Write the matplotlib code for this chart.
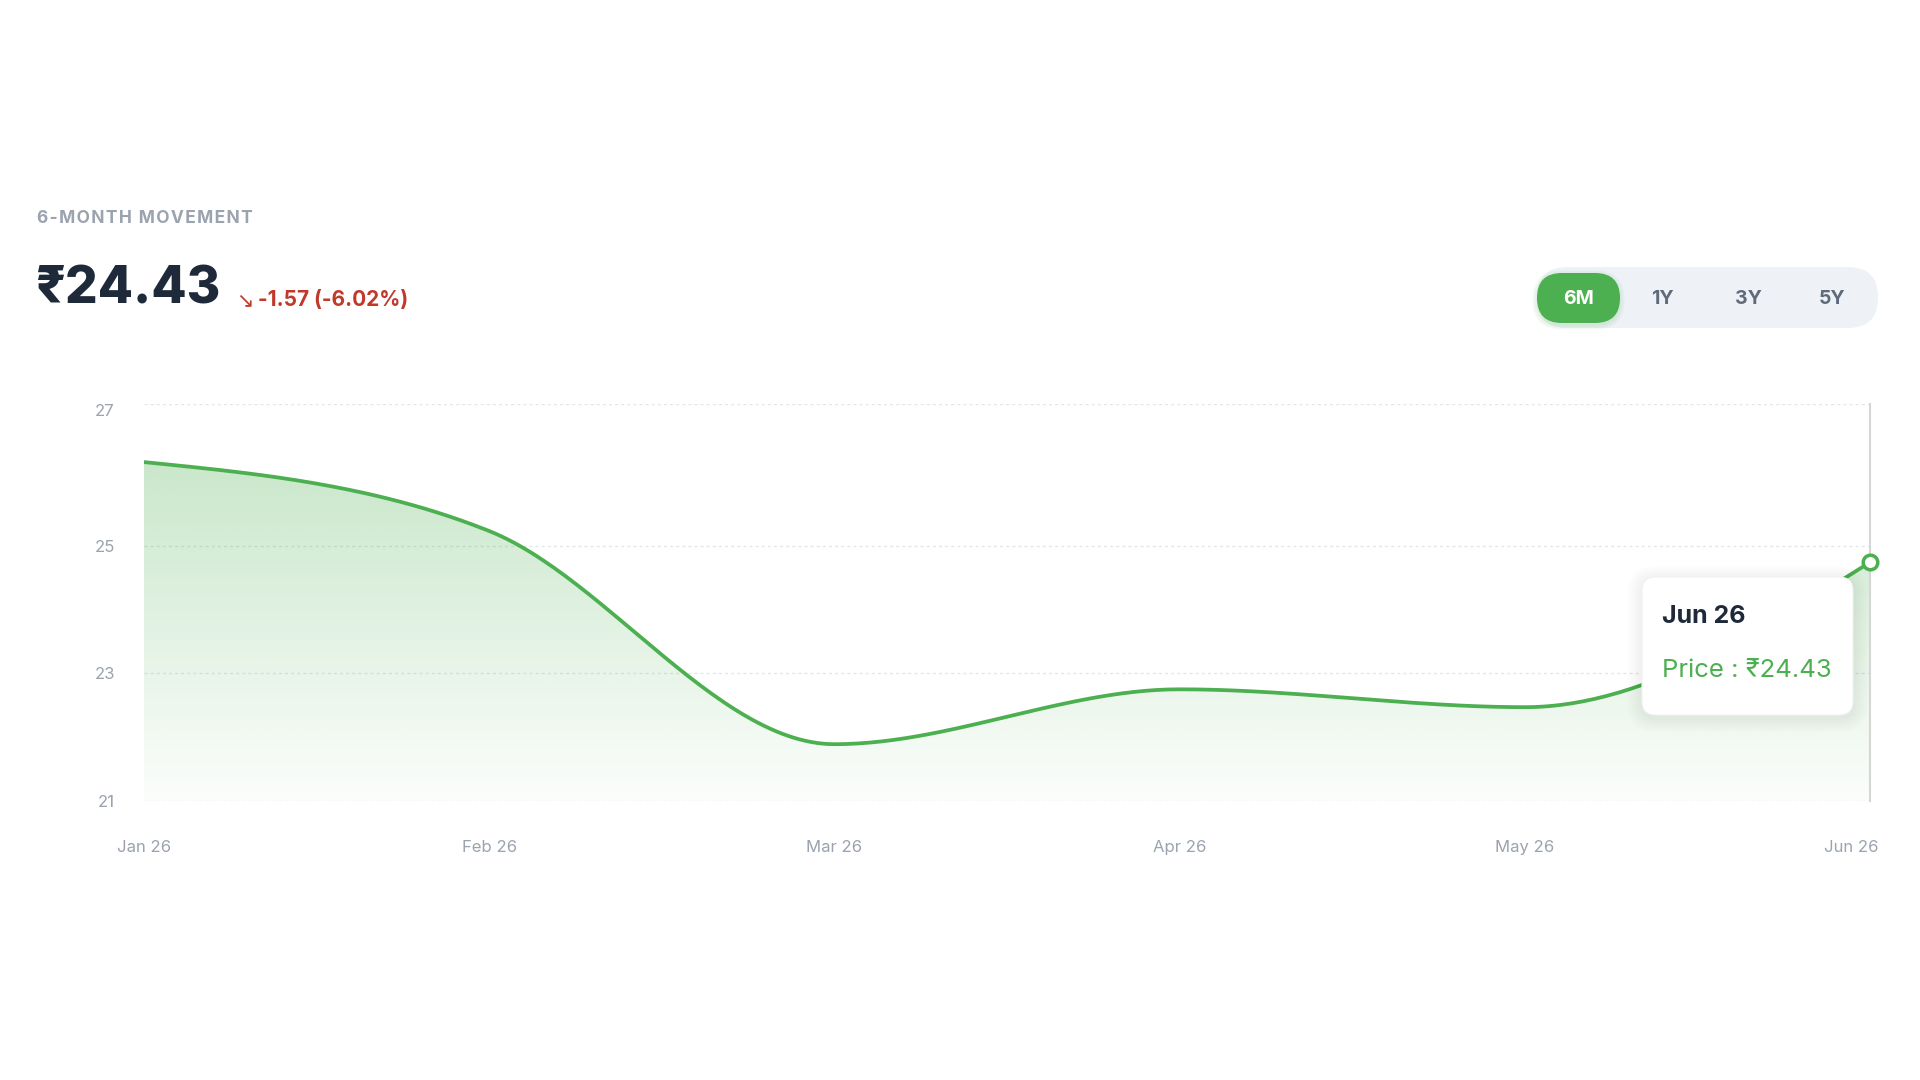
import numpy as np
import matplotlib
matplotlib.use("Agg")
import matplotlib.pyplot as plt
from matplotlib.patches import FancyBboxPatch, Polygon
from matplotlib.transforms import ScaledTranslation

plt.rcParams['font.family'] = ['Inter', 'DejaVu Sans']

# ---- data ----
months = ["Jan 26", "Feb 26", "Mar 26", "Apr 26", "May 26", "Jun 26"]
prices = [26.00, 24.92, 21.58, 22.44, 22.16, 24.43]
y_ticks = [20.69, 22.69, 24.69, 26.91]
y_tick_labels = ["21", "23", "25", "27"]
ranges = ["6M", "1Y", "3Y", "5Y"]

title = "6-MONTH MOVEMENT"
price_text = "₹24.43"
change_arrow = "↘"
change_text = "-1.57 (-6.02%)"
tooltip_date = "Jun 26"
tooltip_price = "Price : ₹24.43"

GREEN = "#4caf50"
DARK = "#1e2a3a"
GRAY = "#9aa3ae"
RED = "#c0392b"

W, H, DPI = 1920, 1080, 100


def fx(x):
    return x / W


def fy(y):
    return 1 - y / H


def rbox(fig, x0, y0, x1, y1, r, **kw):
    # rounded box in pixel coords (top-left origin)
    p = FancyBboxPatch((x0 / DPI, (H - y1) / DPI), (x1 - x0) / DPI, (y1 - y0) / DPI,
                       boxstyle=f"round,pad=0,rounding_size={r / DPI}",
                       transform=fig.dpi_scale_trans, **kw)
    fig.add_artist(p)
    return p


def monotone_curve(ys, n=60):
    # d3 curveMonotoneX style path through the points (unit x spacing)
    ys = np.asarray(ys, dtype=float)
    s = np.diff(ys)
    t = np.zeros(len(ys))
    for i in range(1, len(ys) - 1):
        s0, s1 = s[i - 1], s[i]
        p = (s0 + s1) / 2
        t[i] = (np.sign(s0) + np.sign(s1)) * min(abs(s0), abs(s1), 0.5 * abs(p))
    t[0] = (3 * s[0] - t[1]) / 2
    t[-1] = (3 * s[-1] - t[-2]) / 2
    xs_out, ys_out = [], []
    u = np.linspace(0, 1, n)
    for i in range(len(ys) - 1):
        h00 = 2 * u**3 - 3 * u**2 + 1
        h10 = u**3 - 2 * u**2 + u
        h01 = -2 * u**3 + 3 * u**2
        h11 = u**3 - u**2
        seg = h00 * ys[i] + h10 * t[i] + h01 * ys[i + 1] + h11 * t[i + 1]
        xs_out.extend(i + u)
        ys_out.extend(seg)
    return np.array(xs_out), np.array(ys_out)


fig = plt.figure(figsize=(W / DPI, H / DPI), dpi=DPI)
fig.patch.set_facecolor("white")

# ---- header ----
fig.text(fx(37), fy(223), "\u200a".join(title), fontsize=12.5, fontweight="bold",
         color=GRAY, ha="left", va="baseline")
fig.text(fx(35), fy(303), price_text, fontsize=37, fontweight="heavy",
         color=DARK, ha="left", va="baseline")
fig.text(fx(236), fy(306), change_arrow, fontsize=15, family="DejaVu Sans",
         color=RED, ha="left", va="baseline")
fig.text(fx(258), fy(306), change_text, fontsize=15, fontweight="bold",
         color=RED, ha="left", va="baseline")

# ---- range toggle ----
rbox(fig, 1537, 267, 1878, 328, 30, facecolor="#eef2f7", edgecolor="none", zorder=1)
for k in range(1, 6):
    rbox(fig, 1537 - k, 273 - k + 2, 1620 + k, 323 + k + 2, 25 + k,
         facecolor=GREEN, edgecolor="none", alpha=0.03, zorder=1)
rbox(fig, 1537, 273, 1620, 323, 25, facecolor=GREEN, edgecolor="none", zorder=2)
range_x = [1579, 1662, 1748, 1832]
for lab, x in zip(ranges, range_x):
    fig.text(fx(x), fy(299), lab, fontsize=14, fontweight="bold",
             color="white" if lab == "6M" else "#5f6b7a",
             ha="center", va="center", zorder=3)

# ---- chart ----
ax = fig.add_axes([fx(144), fy(801), (1870 - 144) / W, (801 - 404) / H])
ax.set_xlim(0, len(months) - 1)
ax.set_ylim(y_ticks[0], y_ticks[-1])
for s in ax.spines.values():
    s.set_visible(False)

for yt in y_ticks:
    ax.axhline(yt, color="#e3e6ea", lw=1, ls=(0, (2.2, 2.2)), zorder=0)

xi = np.arange(len(months))
cx, cy = monotone_curve(prices)

# gradient fill under the curve
verts = np.column_stack([np.r_[cx, cx[-1], cx[0]], np.r_[cy, y_ticks[0], y_ticks[0]]])
poly = Polygon(verts, closed=True, facecolor="none", edgecolor="none")
ax.add_patch(poly)
rgb = matplotlib.colors.to_rgb(GREEN)
grad = np.zeros((256, 1, 4))
grad[:, 0, :3] = rgb
grad[:, 0, 3] = np.linspace(0.3, 0.02, 256)
im = ax.imshow(grad, extent=[0, len(months) - 1, y_ticks[0], max(prices)],
               aspect="auto", origin="upper", zorder=1, interpolation="bilinear")
im.set_clip_path(poly)
ax.set_ylim(y_ticks[0], y_ticks[-1])

ax.plot(cx, cy, color=GREEN, lw=2.7, zorder=3, solid_capstyle="round")

# hover cursor and active point
ax.plot([xi[-1], xi[-1]], [y_ticks[0], y_ticks[-1]], color="#d6d6d6", lw=1.5,
        zorder=2, clip_on=False)
ax.plot([xi[-1]], [prices[-1]], marker="o", ms=10.5, mew=2.5, mfc="white",
        mec=GREEN, zorder=4, clip_on=False)

ax.set_yticks(y_ticks)
ax.set_yticklabels(y_tick_labels)
ax.set_xticks(xi)
ax.set_xticklabels(months)
ax.tick_params(axis="both", length=0, labelsize=12, labelcolor=GRAY)
ax.tick_params(axis="y", pad=21)
ax.tick_params(axis="x", pad=28)
ylbls = ax.get_yticklabels()
ylbls[-1].set_transform(ylbls[-1].get_transform()
                        + ScaledTranslation(0, -6 / DPI, fig.dpi_scale_trans))
lbls = ax.get_xticklabels()
lbls[-1].set_horizontalalignment("right")
lbls[-1].set_transform(lbls[-1].get_transform()
                       + ScaledTranslation(8 / DPI, 0, fig.dpi_scale_trans))

# ---- tooltip ----
tx0, ty0, tx1, ty1 = 1642, 577, 1853, 715
for k in range(1, 16):
    rbox(fig, tx0 - k, ty0 - k + 3, tx1 + k, ty1 + k + 3, 14 + k,
         facecolor="black", edgecolor="none", alpha=0.004, zorder=5)
rbox(fig, tx0, ty0, tx1, ty1, 14, facecolor="white", edgecolor="#f2f2f2",
     lw=0.8, zorder=6)
fig.text(fx(1662), fy(623), tooltip_date, fontsize=18, fontweight="bold",
         color=DARK, ha="left", va="baseline", zorder=7)
fig.text(fx(1662), fy(677), tooltip_price, fontsize=18.5,
         color=GREEN, ha="left", va="baseline", zorder=7)

fig.savefig("out.png", dpi=DPI, facecolor="white")
